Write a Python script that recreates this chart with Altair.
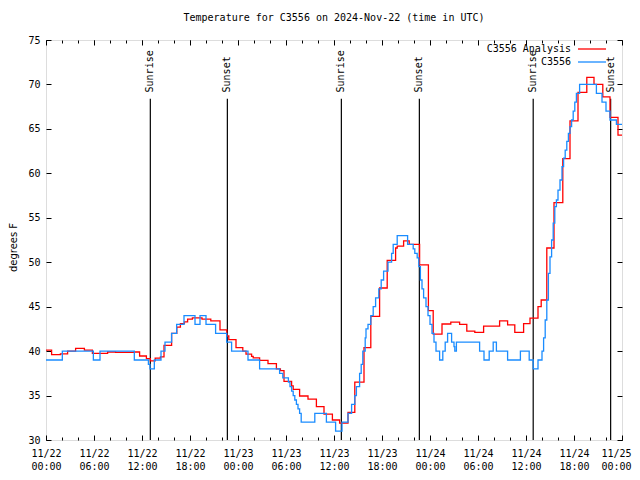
import altair as alt
import pandas as pd

# Hours after 2024-11-22 00:00 UTC
analysis_hours = [0.0, 0.7, 1.8, 2.7, 3.7, 4.8, 5.8, 7.7, 8.7, 11.0, 11.7, 12.55, 13.05, 13.65,
                  14.3, 14.75, 15.7, 16.35, 16.8, 17.3, 17.7, 18.3, 19.5, 20.6, 21.75, 22.6,
                  22.85, 23.75, 24.6, 25.0, 25.7, 25.9, 26.7, 27.75, 28.8, 29.3, 29.75, 30.7,
                  30.9, 31.7, 32.75, 33.8, 34.75, 35.8, 36.7, 37.75, 38.6, 39.75, 40.6, 41.7,
                  42.65, 43.7, 43.9, 44.7, 45.4, 46.7, 47.8, 48.4, 49.5, 50.6, 51.7, 52.6,
                  53.6, 54.7, 56.7, 57.7, 58.6, 59.7, 60.5, 61.5, 61.9, 62.6, 63.5, 64.6,
                  65.5, 66.5, 67.6, 68.5, 69.6, 70.5, 71.5, 72.0]
analysis_temps = [40.1, 39.6, 39.7, 40.0, 40.3, 40.1, 39.75, 39.9, 39.85, 39.9, 39.45, 39.15, 38.9, 39.2,
                  39.35, 40.65, 42.0, 42.7, 43.1, 43.3, 43.6, 43.75, 43.6, 43.4, 42.4, 41.7,
                  41.3, 40.4, 40.0, 39.65, 39.4, 39.25, 38.95, 38.6, 38.0, 37.8, 36.6, 36.1,
                  35.7, 34.95, 34.6, 33.75, 32.9, 32.25, 31.9, 33.1, 36.5, 40.4, 43.9, 47.1,
                  50.2, 51.6, 51.8, 52.4, 52.0, 49.7, 44.55, 41.9, 43.05, 43.25, 43.0, 42.25,
                  42.1, 42.8, 43.4, 42.95, 42.1, 43.1, 43.7, 45.0, 45.75, 51.6, 56.7, 61.65,
                  65.9, 69.1, 70.8, 70.0, 68.6, 66.3, 64.3, 64.3]

obs_hours = [0.0, 2.04, 5.92, 6.75, 11.04, 12.8, 13.0, 13.54, 14.375, 14.875, 15.7, 16.33, 17.25,
             18.625, 19.25, 20.0, 21.2, 22.58, 23.2, 25.25, 26.7, 29.2, 29.6, 30.3, 30.5, 30.7,
             30.9, 31.1, 31.3, 31.5, 31.7, 31.9, 33.6, 35.05, 36.2, 37.0, 37.75, 38.2, 38.6,
             38.8, 39.2, 39.4, 39.6, 39.9, 40.0, 40.25, 40.6, 40.9, 41.2, 41.6, 41.9, 42.2,
             42.75, 43.2, 43.4, 43.9, 45.2, 45.9, 46.1, 46.4, 46.6, 46.8, 47.0, 47.2, 47.5,
             47.75, 48.0, 48.25, 48.5, 48.75, 49.2, 49.6, 49.9, 50.2, 50.7, 51.0, 51.1, 51.3,
             54.2, 54.75, 55.4, 55.9, 56.3, 57.7, 59.3, 60.4, 60.9, 61.5, 62.0, 62.2, 62.4,
             62.6, 62.8, 63.0, 63.2, 63.4, 63.6, 63.8, 64.0, 64.25, 64.5, 64.7, 64.9, 65.1,
             65.3, 65.5, 65.7, 65.9, 66.1, 66.3, 66.7, 68.8, 69.5, 70.0, 70.5, 71.3, 72.0]
obs_temps = [39, 40, 39, 40, 39, 38.5, 38, 39, 40, 41, 42, 43, 44,
             43, 44, 43, 42, 41, 40, 39, 38, 37.5, 37, 36.5, 36, 35.5,
             35, 34.5, 34, 33.5, 33, 32, 33, 32, 31, 32, 33, 34, 35,
             36, 37.5, 38.5, 40, 41.5, 42.5, 43, 44, 45, 46, 47, 48, 49,
             50, 51, 52, 53, 52, 51.5, 51, 50.5, 49.5, 48, 47, 46, 45,
             44, 43, 42, 41, 40, 39, 40, 41, 42, 41, 40.5, 40, 41,
             40, 39, 40, 41, 40, 39, 40, 39, 38, 39, 40, 41.5, 43.5,
             45.75, 48.75, 50.6, 52.5, 54.4, 56.25, 57, 58.1, 59.25, 60.75, 61.7, 62.6, 63.6,
             64.5, 65.25, 66, 67, 68, 69, 70, 69, 68, 67, 66, 65.5, 65.5]

series_names = ["C3556 Analysis", "C3556"]
series_colors = ["#ff0000", "#1a8cff"]

sun_hours = [13.04, 22.67, 36.92, 46.67, 60.9, 70.58]
sun_labels = ["Sunrise", "Sunset", "Sunrise", "Sunset", "Sunrise", "Sunset"]

x_major = list(range(0, 73, 6))
x_minor = list(range(0, 73, 2))
y_ticks = list(range(30, 76, 5))

MONO = "DejaVu Sans Mono"
W, H = 576, 400

df = pd.concat([
    pd.DataFrame({"h": analysis_hours, "temp": analysis_temps, "series": series_names[0]}),
    pd.DataFrame({"h": obs_hours, "temp": obs_temps, "series": series_names[1]}),
])
sun_df = pd.DataFrame({"h": sun_hours, "label": sun_labels})
key_df = pd.DataFrame({"series": series_names, "color": series_colors,
                       "row": list(range(len(series_names)))})

xscale = alt.Scale(domain=[0, 72], nice=False, zero=False)
yscale = alt.Scale(domain=[30, 75], nice=False, zero=False)

label_expr = ("['11/' + (22 + floor(datum.value / 24)), "
              "(datum.value % 24 < 10 ? '0' : '') + (datum.value % 24) + ':00']")

lines = alt.Chart(df).mark_line(interpolate="step-after", strokeWidth=1.3).encode(
    x=alt.X("h:Q", scale=xscale,
            axis=alt.Axis(orient="bottom", values=x_major, labelExpr=label_expr, tickSize=0,
                          domain=False, grid=False, labelFont=MONO, labelFontSize=10,
                          labelPadding=8, labelLineHeight=13, labelAngle=0, labelFlush=False,
                          labelOverlap=False, labelColor="black", title=None,
                          labelBaseline="top",
                          labelOffset={"condition": {"test": "datum.value >= 72", "value": -6},
                                       "value": 0})),
    y=alt.Y("temp:Q", scale=yscale,
            axis=alt.Axis(orient="left", values=y_ticks, tickSize=0, domain=False, grid=False,
                          labelFont=MONO, labelFontSize=10, labelPadding=6,
                          labelColor="black", title="degrees F", titleFont="DejaVu Sans",
                          titleFontSize=10, titleFontWeight="normal", titleX=-33, titleY=207,
                          titleAngle=270, titleAlign="center", titleBaseline="middle",
                          titleColor="black")),
    color=alt.Color("series:N",
                    scale=alt.Scale(domain=series_names, range=series_colors),
                    legend=None),
)


def tick_layer(x_orient, y_orient, xvals, yvals, size):
    xa = alt.Axis(orient=x_orient, offset=-H, values=xvals, tickSize=size, labels=False,
                  domain=False, grid=False, title=None, tickColor="black")
    ya = (alt.Axis(orient=y_orient, offset=-W, values=yvals, tickSize=size, labels=False,
                   domain=False, grid=False, title=None, tickColor="black")
          if yvals is not None else None)
    return alt.Chart(df).mark_point(opacity=0).encode(
        x=alt.X("h:Q", scale=xscale, axis=xa),
        y=alt.Y("temp:Q", scale=yscale, axis=ya),
    )


ticks = [
    tick_layer("top", "right", x_major, y_ticks, 5),
    tick_layer("bottom", "left", x_major, y_ticks, 5),
    tick_layer("top", "right", x_minor, None, 3),
    tick_layer("bottom", "left", x_minor, None, 3),
]

sun_rules = alt.Chart(sun_df).mark_rule(color="black", strokeWidth=1.2).encode(
    x=alt.X("h:Q", scale=xscale, axis=None),
    y=alt.YDatum(30, scale=yscale, axis=None),
    y2=alt.datum(68.4),
)
sun_text = alt.Chart(sun_df).mark_text(angle=270, align="left", baseline="middle",
                                       font=MONO, fontSize=10, color="black").encode(
    x=alt.X("h:Q", scale=xscale, axis=None),
    y=alt.YDatum(69.1, scale=yscale, axis=None),
    text="label:N",
)

# gnuplot-style key: label right-aligned, line sample on its right
key_base = alt.Chart(key_df).transform_calculate(ypix="9 + 13 * datum.row")
key_text = key_base.mark_text(align="right", baseline="middle", font=MONO, fontSize=10,
                              color="black").encode(
    x=alt.value(525), y=alt.Y("ypix:Q", scale=None, axis=None), text="series:N"
)
key_line = key_base.mark_rule(strokeWidth=1.3).encode(
    x=alt.value(532), x2=alt.value(560), y=alt.Y("ypix:Q", scale=None, axis=None),
    color=alt.Color("color:N", scale=None, legend=None)
)

chart = alt.layer(sun_rules, sun_text, lines, *ticks, key_text, key_line).resolve_axis(
    x="independent", y="independent"
).properties(
    width=W, height=H,
    title=alt.TitleParams("Temperature for C3556 on 2024-Nov-22 (time in UTC)", font=MONO,
                          fontSize=10, fontWeight="normal", anchor="middle", offset=12,
                          color="black"),
    autosize=alt.AutoSizeParams(type="none"),
    padding={"left": 38, "top": 32, "right": 10, "bottom": 32},
).configure_view(stroke="black", strokeWidth=1).configure(background="white")

chart.save("out.html", embed_options={"renderer": "svg", "actions": False})
